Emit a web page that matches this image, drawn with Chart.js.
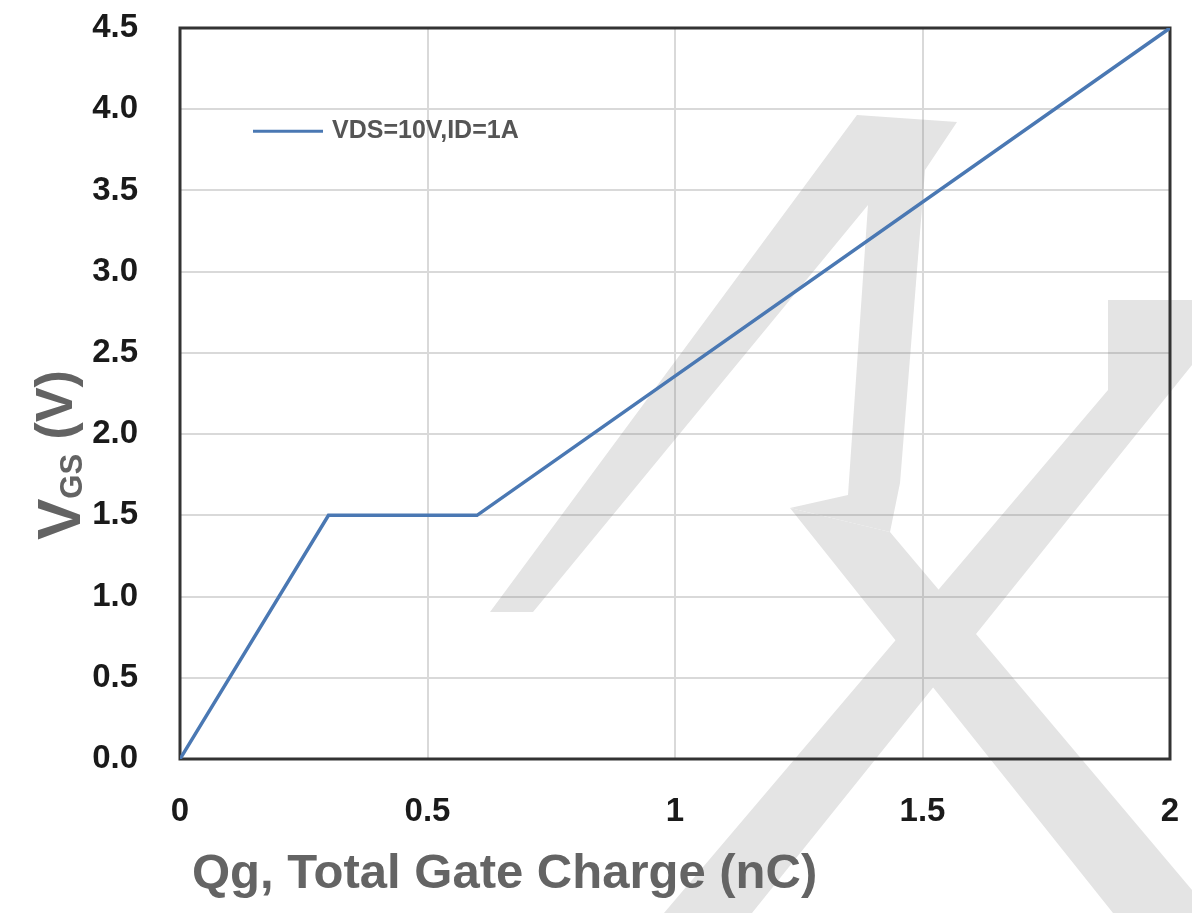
<!DOCTYPE html>
<html>
<head>
<meta charset="utf-8">
<script src="https://cdn.jsdelivr.net/npm/chart.js@4/dist/chart.umd.min.js"></script>
<style>
  html, body { margin: 0; padding: 0; background: #ffffff; }
  #wrap { width: 1192px; height: 913px; }
</style>
</head>
<body>
<div id="wrap"><canvas id="c" width="1192" height="913"></canvas></div>
<script>
// ---- data ----
const seriesLabel = "VDS=10V,ID=1A";
const qgValues = [0, 0.3, 0.6, 2.0];      // Qg (nC)
const vgsValues = [0, 1.5, 1.5, 4.5];     // VGS (V)
const xTickLabels = ["0", "0.5", "1", "1.5", "2"];
const yTickLabels = ["0.0", "0.5", "1.0", "1.5", "2.0", "2.5", "3.0", "3.5", "4.0", "4.5"];
const xTitle = "Qg, Total Gate Charge (nC)";
const yTitleMain = "V";
const yTitleSub = "GS";
const yTitleTail = " (V)";

// decorative background watermark outline (page pixels)
const watermarkShapes = [
  [[490,612],[857,115],[957,122],[925,170],[900,483],[890,532],[790,508],[848,495],[868,205],[533,612]],
  [[790,508],[890,532],[895,538],[1192,890],[1192,913],[1113,913]],
  [[1108,300],[1192,300],[1192,365],[752,913],[664,913],[1108,390]]
];

const LINE_COLOR = "#4a78b3";
const SANS = "'Liberation Sans', Arial, sans-serif";

const points = qgValues.map((x, i) => ({ x: x, y: vgsValues[i] }));

function zeroPad(s) { s.paddingTop = 0; s.paddingBottom = 0; s.paddingLeft = 0; s.paddingRight = 0; }

const decorPlugin = {
  id: "decor",
  beforeDatasetsDraw(chart) {
    const ctx = chart.ctx;
    const a = chart.chartArea;
    // watermark (opaque on an offscreen layer, then blended once)
    const off = document.createElement("canvas");
    off.width = chart.width; off.height = chart.height;
    const o = off.getContext("2d");
    o.fillStyle = "#787878";
    watermarkShapes.forEach(poly => {
      o.beginPath();
      poly.forEach((p, i) => { if (i === 0) o.moveTo(p[0], p[1]); else o.lineTo(p[0], p[1]); });
      o.closePath();
      o.fill();
    });
    ctx.save();
    ctx.globalAlpha = 0.2;
    ctx.drawImage(off, 0, 0);
    ctx.restore();
    // plot frame
    ctx.save();
    ctx.strokeStyle = "#333333";
    ctx.lineWidth = 3;
    ctx.strokeRect(a.left, a.top, a.right - a.left, a.bottom - a.top);
    ctx.restore();
  },
  afterDraw(chart) {
    const ctx = chart.ctx;
    const a = chart.chartArea;
    const ys = chart.scales.y;
    // legend inside the plot
    ctx.save();
    const ly = ys.getPixelForValue(4.0) + 22;
    const lx = a.left + 73;
    ctx.strokeStyle = LINE_COLOR;
    ctx.lineWidth = 3;
    ctx.beginPath();
    ctx.moveTo(lx, ly);
    ctx.lineTo(lx + 70, ly);
    ctx.stroke();
    ctx.fillStyle = "#555555";
    ctx.font = "bold 25px " + SANS;
    ctx.textBaseline = "middle";
    ctx.textAlign = "left";
    ctx.fillText(chart.data.datasets[0].label, lx + 79, ly);
    ctx.restore();
    // x axis title
    ctx.save();
    ctx.fillStyle = "#646464";
    ctx.font = "bold 49px " + SANS;
    ctx.textBaseline = "alphabetic";
    ctx.textAlign = "left";
    ctx.fillText(xTitle, a.left + 12, a.bottom + 129);
    ctx.restore();
    // y axis title with subscript
    ctx.save();
    ctx.translate(80, 540);
    ctx.rotate(-Math.PI / 2);
    ctx.fillStyle = "#636363";
    ctx.textBaseline = "alphabetic";
    ctx.textAlign = "left";
    ctx.font = "bold 62px " + SANS;
    ctx.fillText(yTitleMain, 0, 0);
    let w = ctx.measureText(yTitleMain).width;
    ctx.font = "bold 31px " + SANS;
    ctx.fillText(yTitleSub, w, 2);
    w += ctx.measureText(yTitleSub).width;
    ctx.font = "bold 52px " + SANS;
    ctx.fillText(yTitleTail, w, -8);
    ctx.restore();
  }
};

new Chart(document.getElementById("c"), {
  type: "line",
  data: {
    datasets: [{
      label: seriesLabel,
      data: points,
      borderColor: LINE_COLOR,
      borderWidth: 3.5,
      pointRadius: 0,
      tension: 0,
      fill: false
    }]
  },
  options: {
    responsive: false,
    animation: false,
    devicePixelRatio: 1,
    layout: { padding: { left: 0, top: 28, right: 22, bottom: 0 } },
    plugins: {
      legend: { display: false },
      tooltip: { enabled: false }
    },
    scales: {
      x: {
        type: "linear",
        min: 0, max: 2,
        afterFit(s) { s.height = 154; zeroPad(s); },
        afterBuildTicks(s) { s.ticks = xTickLabels.map(t => ({ value: parseFloat(t) })); },
        ticks: {
          autoSkip: false,
          maxRotation: 0,
          padding: 33,
          color: "#1a1a1a",
          font: { family: SANS, size: 33, weight: "bold" },
          callback: (v) => xTickLabels.find(t => parseFloat(t) === v)
        },
        grid: { color: "#d9d9d9", lineWidth: 2, drawTicks: false },
        border: { display: false },
        title: { display: false }
      },
      y: {
        type: "linear",
        min: 0, max: 4.5,
        afterFit(s) { s.width = 180; zeroPad(s); },
        afterBuildTicks(s) { s.ticks = yTickLabels.map(t => ({ value: parseFloat(t) })); },
        ticks: {
          autoSkip: false,
          padding: 42,
          color: "#1a1a1a",
          font: { family: SANS, size: 33, weight: "bold" },
          callback: (v) => yTickLabels.find(t => parseFloat(t) === v)
        },
        grid: { color: "#d9d9d9", lineWidth: 2, drawTicks: false },
        border: { display: false }
      }
    }
  },
  plugins: [decorPlugin]
});
</script>
</body>
</html>
